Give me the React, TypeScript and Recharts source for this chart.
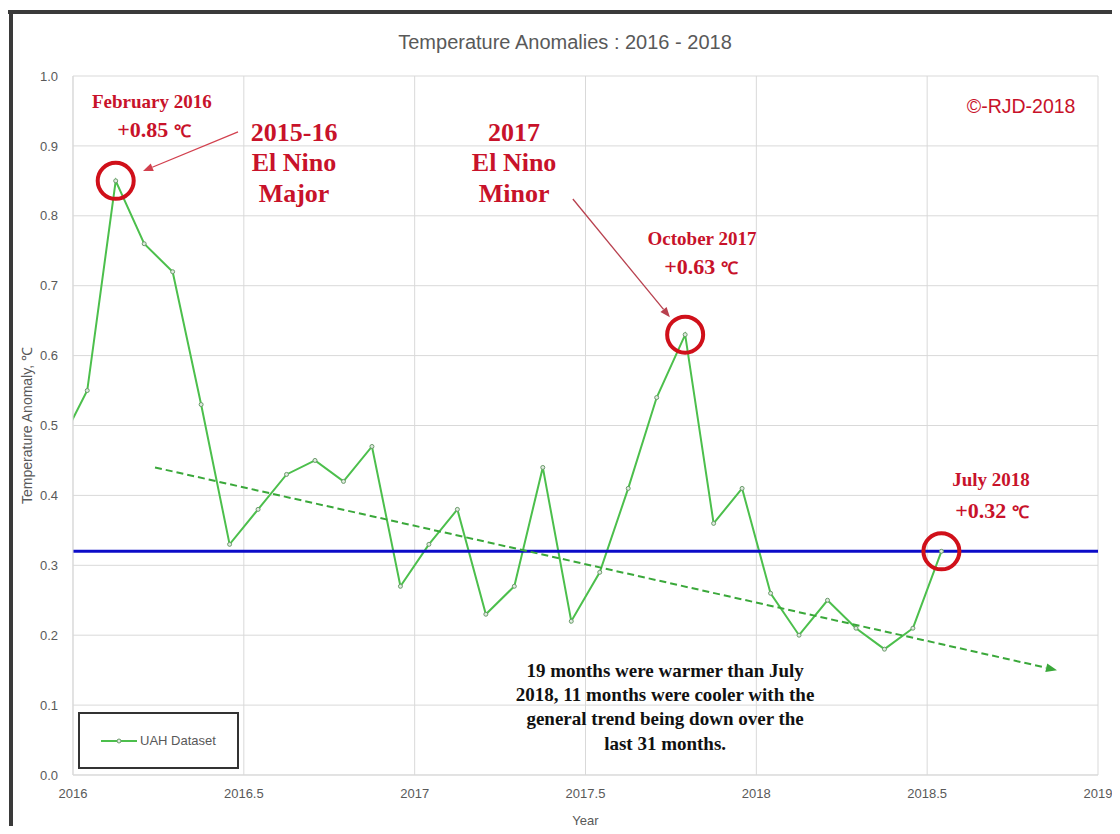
import { LineChart, Line, XAxis, YAxis, CartesianGrid, Legend, ReferenceLine, ReferenceDot } from 'recharts'

// monthly UAH anomalies, Dec 2015 .. Jul 2018 (Dec 2015 only shows as the clipped lead-in)
const months = [
  '2015-12',
  '2016-01', '2016-02', '2016-03', '2016-04', '2016-05', '2016-06',
  '2016-07', '2016-08', '2016-09', '2016-10', '2016-11', '2016-12',
  '2017-01', '2017-02', '2017-03', '2017-04', '2017-05', '2017-06',
  '2017-07', '2017-08', '2017-09', '2017-10', '2017-11', '2017-12',
  '2018-01', '2018-02', '2018-03', '2018-04', '2018-05', '2018-06', '2018-07',
]
const uahAnomaly = [
  0.47,
  0.55, 0.85, 0.76, 0.72, 0.53, 0.33, 0.38, 0.43, 0.45, 0.42, 0.47, 0.27,
  0.33, 0.38, 0.23, 0.27, 0.44, 0.22, 0.29, 0.41, 0.54, 0.63, 0.36, 0.41,
  0.26, 0.20, 0.25, 0.21, 0.18, 0.21, 0.32,
]
const xTicks = [2016, 2016.5, 2017, 2017.5, 2018, 2018.5, 2019]
const yTicks = [0, 0.1, 0.2, 0.3, 0.4, 0.5, 0.6, 0.7, 0.8, 0.9, 1.0]
const july2018Level = 0.32
const circledMonths = ['2016-02', '2017-10', '2018-07']
// hand drawn trend arrow
const trendStart = { x: 2016.24, y: 0.44 }
const trendEnd = { x: 2018.88, y: 0.15 }

const SANS = '"Liberation Sans", Arial, sans-serif'
const SERIF = '"Liberation Serif", "Times New Roman", serif'
const RED = '#c8122a'
const GREEN = '#4cbf4c'
const GREY = '#595959'

const toYear = (m: string) => {
  const [yr, mo] = m.split('-').map(Number)
  return yr + (mo - 0.5) / 12
}

const data = months.map((m, i) => ({ t: toYear(m), uah: uahAnomaly[i] }))
const circled = circledMonths.map((m) => ({ x: toYear(m), y: uahAnomaly[months.indexOf(m)] }))

type Note = {
  x: number
  y: number
  lines: string[]
  size: number
  lh?: number
  unit?: string
  color?: string
  font?: string
  weight?: string | number
}

const notes: Note[] = [
  { x: 2016.231, y: 0.963, lines: ['February 2016'], size: 19 },
  { x: 2016.237, y: 0.923, lines: ['+0.85 '], unit: '℃', size: 22 },
  { x: 2016.647, y: 0.92, lines: ['2015-16', 'El Nino', 'Major'], size: 26, lh: 30.5 },
  { x: 2017.291, y: 0.92, lines: ['2017', 'El Nino', 'Minor'], size: 26, lh: 30.5 },
  { x: 2017.841, y: 0.768, lines: ['October 2017'], size: 19 },
  { x: 2017.838, y: 0.727, lines: ['+0.63 '], unit: '℃', size: 22 },
  { x: 2018.687, y: 0.422, lines: ['July 2018'], size: 19 },
  { x: 2018.69, y: 0.379, lines: ['+0.32 '], unit: '℃', size: 22 },
  { x: 2018.775, y: 0.956, lines: ['©-RJD-2018'], size: 19.5, font: SANS, weight: 'normal' },
  {
    x: 2017.733,
    y: 0.15,
    lines: [
      '19 months were warmer than July',
      '2018, 11 months were cooler with the',
      'general trend being down over the',
      'last 31 months.',
    ],
    size: 19,
    lh: 24.3,
    color: '#111',
  },
]

type Arrow = {
  from: { x: number; y: number }
  to: { x: number; y: number }
  color: string
  width: number
  head: number
  dash?: string
}

const arrows: Arrow[] = [
  { from: { x: 2016.483, y: 0.92 }, to: { x: 2016.205, y: 0.864 }, color: '#d2404e', width: 1.3, head: 10 },
  { from: { x: 2017.463, y: 0.824 }, to: { x: 2017.747, y: 0.655 }, color: '#b8404e', width: 1.3, head: 10 },
  { from: trendStart, to: trendEnd, color: '#3aa83a', width: 2, head: 11, dash: '7 4' },
]

const noteShape = (n: Note) => (p: any) => (
  <text
    textAnchor="middle"
    fontFamily={n.font ?? SERIF}
    fontSize={n.size}
    fontWeight={n.weight ?? 'bold'}
    fill={n.color ?? RED}
  >
    {n.lines.map((line, i) => (
      <tspan key={i} x={p.cx} y={p.cy + i * (n.lh ?? 0) + n.size * 0.34}>
        {line}
        {n.unit ? <tspan fontSize={n.size * 0.78}>{n.unit}</tspan> : null}
      </tspan>
    ))}
  </text>
)

const arrowShape = (a: Arrow) => (p: any) => {
  const { x1, y1, x2, y2 } = p
  const ang = Math.atan2(y2 - y1, x2 - x1)
  const c = Math.cos(ang)
  const s = Math.sin(ang)
  const bx = x2 - a.head * c
  const by = y2 - a.head * s
  const w = a.head * 0.4
  return (
    <g>
      <line x1={x1} y1={y1} x2={bx} y2={by} stroke={a.color} strokeWidth={a.width} strokeDasharray={a.dash} />
      <polygon points={`${x2},${y2} ${bx - w * s},${by + w * c} ${bx + w * s},${by - w * c}`} fill={a.color} />
    </g>
  )
}

const renderLegend = () => (
  <div style={{ display: 'flex', alignItems: 'center', justifyContent: 'center', height: '100%' }}>
    <svg width={36} height={8}>
      <line x1={0} y1={4} x2={36} y2={4} stroke={GREEN} strokeWidth={2} />
      <circle cx={18} cy={4} r={2} fill="#dfeadf" stroke="#6a9a6a" strokeWidth={1} />
    </svg>
    <span style={{ marginLeft: 3, fontFamily: SANS, fontSize: 13, color: GREY }}>UAH Dataset</span>
  </div>
)

const yLabel = (props: any) => {
  const vb = props.viewBox
  const x = vb.x + 14
  const y = vb.y + vb.height / 2
  return (
    <text
      x={x}
      y={y}
      transform={`rotate(-90 ${x} ${y})`}
      textAnchor="middle"
      dominantBaseline="central"
      fontFamily={SANS}
      fontSize={14}
      fill={GREY}
    >
      Temperature Anomaly, ℃
    </text>
  )
}

export default function App() {
  return (
    <div style={{ position: 'relative', width: 1120, height: 834, background: '#fff', margin: -8 }}>
      <div style={{ position: 'absolute', left: 8, top: 10, right: 0, height: 4, background: '#3a3a3a' }} />
      <div style={{ position: 'absolute', left: 9, top: 10, bottom: 0, width: 4, background: '#3a3a3a' }} />
      <div style={{ position: 'absolute', left: 1113, top: 20, bottom: 0, width: 1, background: '#e4e4e4' }} />
      <div
        style={{
          position: 'absolute',
          left: 0,
          width: 1130,
          top: 30,
          lineHeight: '24px',
          textAlign: 'center',
          fontFamily: SANS,
          fontSize: 20,
          color: GREY,
        }}
      >
        Temperature Anomalies : 2016 - 2018
      </div>
      <LineChart width={1120} height={834} data={data} margin={{ top: 76, right: 22, bottom: 29, left: 13 }}>
        <CartesianGrid stroke="#d9d9d9" />
        <XAxis
          dataKey="t"
          type="number"
          domain={[2016, 2019]}
          ticks={xTicks}
          interval={0}
          allowDataOverflow
          height={30}
          tickLine={false}
          tickMargin={8}
          axisLine={{ stroke: '#d9d9d9' }}
          tick={{ fill: GREY, fontSize: 13, fontFamily: SANS }}
          tickFormatter={(v: number) => String(v)}
          label={{ value: 'Year', position: 'bottom', offset: 11, fill: GREY, fontSize: 13, fontFamily: SANS }}
        />
        <YAxis
          type="number"
          domain={[0, 1]}
          ticks={yTicks}
          interval={0}
          width={60}
          tickLine={false}
          tickMargin={9}
          axisLine={{ stroke: '#d9d9d9' }}
          tick={{ fill: GREY, fontSize: 13, fontFamily: SANS }}
          tickFormatter={(v: number) => v.toFixed(1)}
          label={{ content: yLabel }}
        />
        <Legend
          layout="horizontal"
          align="center"
          verticalAlign="middle"
          content={renderLegend}
          wrapperStyle={{
            left: 78,
            top: 712,
            width: 161,
            height: 57,
            border: '2px solid #333',
            boxSizing: 'border-box',
            background: '#fff',
          }}
        />
        <Line
          type="linear"
          dataKey="uah"
          name="UAH Dataset"
          stroke={GREEN}
          strokeWidth={2}
          dot={{ r: 2, fill: '#dfeadf', stroke: '#6a9a6a', strokeWidth: 1 }}
          activeDot={false}
          isAnimationActive={false}
        />
        <ReferenceLine y={july2018Level} stroke="#0c0cc8" strokeWidth={3} />
        {arrows.map((a, i) => (
          <ReferenceLine key={`a${i}`} segment={[a.from, a.to]} ifOverflow="visible" shape={arrowShape(a)} />
        ))}
        {circled.map((c, i) => (
          <ReferenceDot
            key={`c${i}`}
            x={c.x}
            y={c.y}
            r={18}
            fill="none"
            stroke="#d0101a"
            strokeWidth={4}
            ifOverflow="visible"
          />
        ))}
        {notes.map((n, i) => (
          <ReferenceDot key={`n${i}`} x={n.x} y={n.y} r={0} ifOverflow="visible" shape={noteShape(n)} />
        ))}
      </LineChart>
    </div>
  )
}
